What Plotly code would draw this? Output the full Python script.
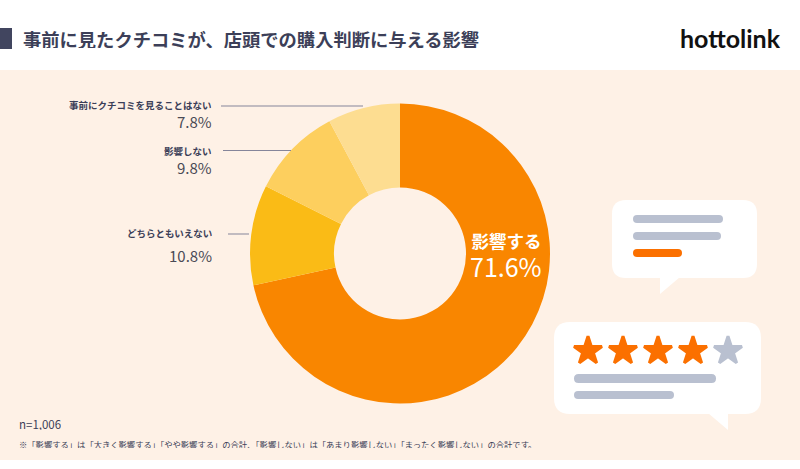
import plotly.graph_objects as go

LABELS = ['影響する', 'どちらともいえない', '影響しない', '事前にクチコミを見ることはない']
VALUES = [71.6, 10.8, 9.8, 7.8]
COLORS = ['#f98600', '#fabb16', '#fdcf5e', '#fddd91']

TITLE = '事前に見たクチコミが、店頭での購入判断に与える影響'
NOTE = '※「影響する」は「大きく影響する」「やや影響する」の合計、「影響しない」は「あまり影響しない」「まったく影響しない」の合計です。'
JP = 'Noto Sans CJK JP'
W, H = 800, 469


def rounded(x0, y0, x1, y1, r, color):
    path = (f'M{x0+r},{y0} L{x1-r},{y0} Q{x1},{y0} {x1},{y0+r} L{x1},{y1-r} Q{x1},{y1} {x1-r},{y1} '
            f'L{x0+r},{y1} Q{x0},{y1} {x0},{y1-r} L{x0},{y0+r} Q{x0},{y0} {x0+r},{y0} Z')
    return dict(type='path', path=path, fillcolor=color, line_width=0, layer='below')


def line(x0, x1, y):
    return dict(type='line', x0=x0, x1=x1, y0=y, y1=y, line=dict(color='#85859a', width=1), layer='above')


def text(x, y, s, size, color='#3c3f58', anchor='right', weight=400, font=JP):
    return dict(x=x, y=y, text=s, showarrow=False, xanchor=anchor, yanchor='middle', height=round(size * 1.05),
                font=dict(family=font, size=size, color=color, weight=weight))


fig = go.Figure()

fig.add_trace(go.Pie(labels=LABELS, values=VALUES, hole=0.44, sort=False, direction='clockwise', rotation=0,
                     marker=dict(colors=COLORS, line=dict(width=0)), textinfo='none', showlegend=False,
                     hoverinfo='label+percent',
                     domain=dict(x=[250 / W, 550 / W], y=[1 - 404 / H, 1 - 103 / H])))

# stars on the review card
star_colors = ['#fb7000', '#fb7000', '#fb7000', '#fb7000', '#b9c0d0']
fig.add_trace(go.Scatter(x=[588, 623, 658, 693, 728], y=[351, 351, 351, 351, 351], mode='markers',
                         showlegend=False, hoverinfo='skip',
                         marker=dict(symbol='star', size=21, color=star_colors,
                                     line=dict(width=3, color=star_colors))))

shapes = [
    dict(type='rect', x0=0, x1=W, y0=70, y1=460, fillcolor='#fef1e6', line_width=0, layer='below'),
    dict(type='rect', x0=0, x1=12, y0=28, y1=49, fillcolor='#41455f', line_width=0, layer='below'),
    line(221, 363, 106), line(223, 291, 150.5), line(228, 249, 234),
    # comment bubble
    rounded(612, 200, 757, 278, 14, 'white'),
    dict(type='path', path='M660,277 L660,294 L680,277 Z', fillcolor='white', line_width=0, layer='below'),
    rounded(633, 215, 723, 223, 4, '#b9c0d0'),
    rounded(633, 232, 721, 240, 4, '#b9c0d0'),
    rounded(633, 249, 682, 257, 4, '#fb7000'),
    # review bubble
    rounded(554, 322, 761, 414, 16, 'white'),
    dict(type='path', path='M708,413 L728,430 L728,413 Z', fillcolor='white', line_width=0, layer='below'),
    rounded(574, 374, 716, 383, 4.5, '#b9c0d0'),
    rounded(574, 391, 674, 399, 4, '#b9c0d0'),
]

big_label = (f'<span style="font-size:17.5px;font-weight:700">{LABELS[0]}</span><br>'
             f'<span style="font-size:25px">{VALUES[0]}%</span>')

annotations = [
    text(21, 38.5, TITLE, 18.3, anchor='left', weight=700),
    text(678, 37.5, 'hottolink', 25, color='#111111', anchor='left', weight=700, font='Lato'),
    text(214, 104.5, LABELS[3], 9.5, weight=700),
    text(214, 121, f'{VALUES[3]}%', 15, color='#4a4a55'),
    text(214, 150.5, LABELS[2], 9.5, weight=700),
    text(214, 167, f'{VALUES[2]}%', 15, color='#4a4a55'),
    text(214, 233, LABELS[1], 9.5, weight=700),
    text(214, 255, f'{VALUES[1]}%', 15, color='#4a4a55'),
    dict(x=544, y=256, text=big_label, showarrow=False, xanchor='right', yanchor='middle', align='right',
         font=dict(family=JP, size=22.5, color='white')),
    text(17, 424, 'n=1,006', 11.5, anchor='left'),
    text(17, 443, NOTE, 8.3, anchor='left'),
]

fig.update_layout(width=W, height=H, margin=dict(l=0, r=0, t=0, b=0), paper_bgcolor='white', plot_bgcolor='white',
                  xaxis=dict(range=[0, W], visible=False, fixedrange=True),
                  yaxis=dict(range=[H, 0], visible=False, fixedrange=True),
                  shapes=shapes, annotations=annotations)

# the page's default body margin would push the chart 8px off
fig.write_html("out.html", config=dict(displayModeBar=False),
               post_script="document.body.style.margin='0';document.body.style.overflow='hidden';")
